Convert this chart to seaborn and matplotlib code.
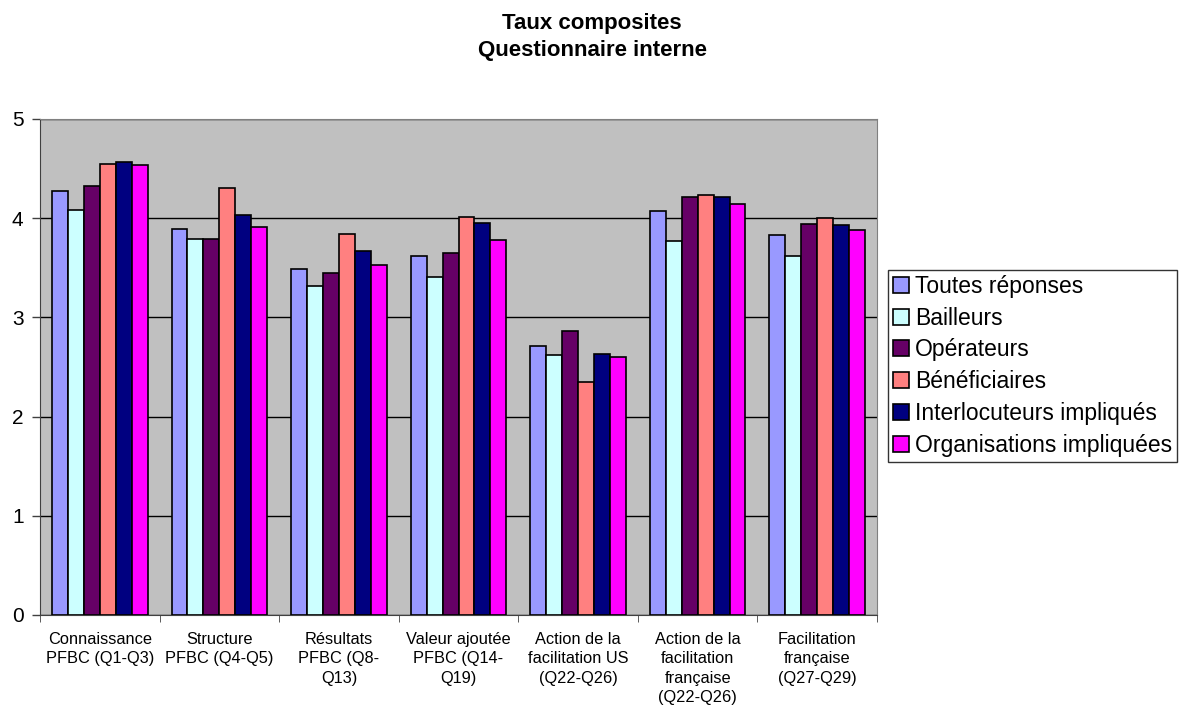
import numpy as np
import pandas as pd
import matplotlib
matplotlib.use("Agg")
import matplotlib.pyplot as plt
import seaborn as sns

# categories (x axis) and series
categories = ["Connaissance\nPFBC (Q1-Q3)", "Structure\nPFBC (Q4-Q5)",
              "Résultats\nPFBC (Q8-\nQ13)", "Valeur ajoutée\nPFBC (Q14-\nQ19)",
              "Action de la\nfacilitation US\n(Q22-Q26)",
              "Action de la\nfacilitation\nfrançaise\n(Q22-Q26)",
              "Facilitation\nfrançaise\n(Q27-Q29)"]
series = ["Toutes réponses", "Bailleurs", "Opérateurs", "Bénéficiaires",
          "Interlocuteurs impliqués", "Organisations impliquées"]

toutes = [4.27, 3.89, 3.49, 3.62, 2.71, 4.07, 3.83]
bailleurs = [4.08, 3.79, 3.32, 3.41, 2.62, 3.77, 3.62]
operateurs = [4.32, 3.79, 3.45, 3.65, 2.86, 4.21, 3.94]
beneficiaires = [4.55, 4.30, 3.84, 4.01, 2.35, 4.23, 4.00]
interlocuteurs = [4.57, 4.03, 3.67, 3.95, 2.63, 4.21, 3.93]
organisations = [4.54, 3.91, 3.53, 3.78, 2.60, 4.14, 3.88]

colors = ["#9999FF", "#CCFFFF", "#660066", "#FF8080", "#000080", "#FF00FF"]

# long-form table for seaborn
rows = []
for name, vals in zip(series, [toutes, bailleurs, operateurs, beneficiaires,
                               interlocuteurs, organisations]):
    for cat, v in zip(categories, vals):
        rows.append({"cat": cat, "serie": name, "val": v})
df = pd.DataFrame(rows)

sns.set_style("white")
plt.rcParams["font.family"] = ["Liberation Sans", "DejaVu Sans"]
plt.rcParams["text.color"] = "black"
plt.rcParams["xtick.labelcolor"] = "black"
plt.rcParams["ytick.labelcolor"] = "black"

fig = plt.figure(figsize=(11.81, 7.06), dpi=100)
ax = fig.add_axes([40/1181, 1-615/706, 837/1181, 496/706])
ax.set_facecolor("#C0C0C0")

sns.barplot(data=df, x="cat", y="val", hue="serie", order=categories,
            hue_order=series, palette=colors, width=0.8, gap=0,
            edgecolor="black", linewidth=1.2, saturation=1, ax=ax, zorder=3)

ax.set_ylim(0, 5)
ax.set_xlim(-0.5, len(categories) - 0.5)
ax.set_yticks(range(6))
ax.yaxis.grid(True, color="black", linewidth=1, zorder=1)
ax.set_axisbelow(True)
ax.set_xlabel("")
ax.set_ylabel("")

for side in ["top", "right"]:
    ax.spines[side].set_color("#808080")
ax.spines["left"].set_color("#404040")
ax.spines["bottom"].set_color("#404040")

ax.tick_params(axis="y", direction="out", length=6, width=1, color="#404040",
               labelsize=15, left=True, pad=5.8, labelcolor="black")
ax.tick_params(axis="x", which="major", length=0, labelsize=11.8, pad=12,
               labelcolor="black")
ax.set_xticks(np.arange(-0.5, len(categories)), minor=True)
ax.tick_params(axis="x", which="minor", direction="out", length=5,
               color="#404040", bottom=True)
for lbl in ax.get_xticklabels():
    lbl.set_linespacing(1.37)
    lbl.set_horizontalalignment("center")

leg = ax.legend(loc="upper left", frameon=True, fontsize=16.5,
                handlelength=0.7, handleheight=0.7, handletextpad=0.25,
                labelspacing=0.38, borderpad=0.22, borderaxespad=0,
                fancybox=False)
leg.get_frame().set_edgecolor("black")
leg.get_frame().set_linewidth(1)
for t in leg.get_texts():
    t.set_color("black")
leg.set_bbox_to_anchor((888/1181, 1 - 270/706), transform=fig.transFigure)

fig.text(592/1181, 1 - 37/706, "Taux composites\nQuestionnaire interne",
         ha="center", va="center", fontsize=16, fontweight="bold",
         linespacing=1.4, color="black")

fig.savefig("out.png", dpi=100)
